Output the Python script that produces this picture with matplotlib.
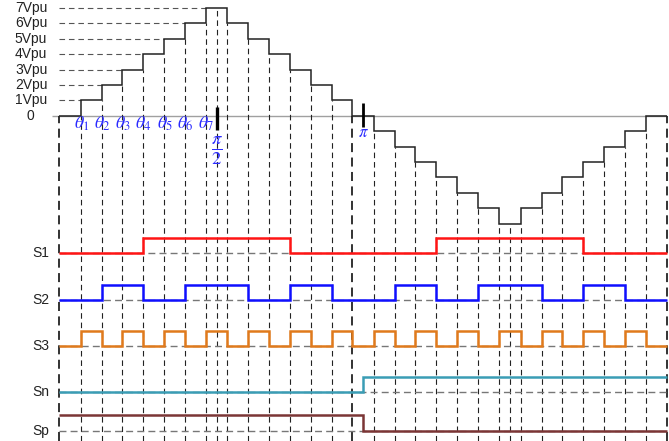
import matplotlib
matplotlib.use("Agg")
import matplotlib.pyplot as plt

# ---------------- data ----------------
theta_deg = [6.7, 19.4, 32.0, 44.9, 57.8, 70.5, 83.4]   # switching angles θ1..θ7 (deg)
theta_labels = [r"$\theta_1$", r"$\theta_2$", r"$\theta_3$", r"$\theta_4$",
                r"$\theta_5$", r"$\theta_6$", r"$\theta_7$"]
level_labels = ["0", "1Vpu", "2Vpu", "3Vpu", "4Vpu", "5Vpu", "6Vpu", "7Vpu"]

# level of the staircase in each interval between successive edges
levels = [0, 1, 2, 3, 4, 5, 6, 7, 6, 5, 4, 3, 2, 1, 0,
          -1, -2, -3, -4, -5, -6, -7, -6, -5, -4, -3, -2, -1, 0]
# switch states in the same intervals
S1 = [0, 0, 0, 0, 1, 1, 1, 1, 1, 1, 1, 0, 0, 0, 0,
      0, 0, 0, 1, 1, 1, 1, 1, 1, 1, 0, 0, 0, 0]
S2 = [0, 0, 1, 1, 0, 0, 1, 1, 1, 0, 0, 1, 1, 0, 0,
      0, 1, 1, 0, 0, 1, 1, 1, 0, 0, 1, 1, 0, 0]
S3 = [0, 1, 0, 1, 0, 1, 0, 1, 0, 1, 0, 1, 0, 1, 0,
      1, 0, 1, 0, 1, 0, 1, 0, 1, 0, 1, 0, 1, 0]
# polarity switches: change state at pi
Sn = [0, 1]
Sp = [1, 0]

signal_names = ["S1", "S2", "S3", "Sn", "Sp"]
signal_colors = ["#ff1414", "#0f0fff", "#e07a1c", "#3a9db5", "#7b3535"]

# ---------------- layout ----------------
baselines = [-8.94, -11.97, -14.95, -17.96, -20.45]
amp = 1.0

plt.rcParams["mathtext.fontset"] = "stix"
fig = plt.figure(figsize=(6.69, 4.41), dpi=100)
ax = fig.add_axes([0, 0, 1, 1])
ax.set_xlim(-43.03, 367.64)
ax.set_ylim(-21.12, 7.513)
ax.axis("off")

t1 = theta_deg[0]
x_start, x_end = -t1, 360 + t1
edges = ([x_start] + theta_deg + [180 - t for t in theta_deg[::-1]]
         + [180 + t for t in theta_deg] + [360 - t for t in theta_deg[::-1]] + [x_end])
ybot = -21.12

short = (0, (5, 3.5))
longd = (0, (5, 3))
txt = dict(family="Liberation Sans", color="#222222", fontsize=10)

# zero axis
ax.hlines(0, -11.3, 366.2, color="#a0a0a0", lw=1.0, zorder=1)

# horizontal dashed guides from the left to each level
for k, t in enumerate(theta_deg, start=1):
    ax.hlines(k, x_start, t, colors="#555555", lw=0.8, linestyles=short, zorder=1)

# vertical dashed lines at each transition
long_x = [x_start, 180 - t1, x_end]
for i in range(1, len(edges) - 1):
    x = edges[i]
    ymin = min(levels[i - 1], levels[i])
    if any(abs(x - lx) < 1e-6 for lx in long_x):
        continue
    ax.vlines(x, ybot, ymin, colors="#222222", lw=0.8, linestyles=short, zorder=1)
for lx in long_x:
    ax.vlines(lx, ybot, 0, colors="#222222", lw=1.3, linestyles=longd, zorder=1)
# quarter-period centre lines
ax.vlines(90, ybot, 7, colors="#222222", lw=0.8, linestyles=short, zorder=1)
ax.vlines(270, ybot, -7, colors="#222222", lw=0.8, linestyles=short, zorder=1)

# staircase waveform
ax.stairs(levels, edges, baseline=None, color="#222222", lw=1.1, zorder=3)

# markers at pi/2 and pi
ax.vlines(90, -0.93, 0.56, colors="black", lw=2.4, zorder=4)
ax.vlines(180, -0.73, 0.82, colors="black", lw=2.0, zorder=4)

# switching signals
pol_edges = [x_start, 180, x_end]
states = [S1, S2, S3, Sn, Sp]
for name, st, col, b in zip(signal_names, states, signal_colors, baselines):
    ax.hlines(b, x_start, x_end, colors="#777777", lw=1.0, linestyles=longd, zorder=1)
    e = edges if len(st) == len(levels) else pol_edges
    ax.stairs([b + amp * s for s in st], e, baseline=None, color=col, lw=1.8, zorder=3)
    ax.text(-12.8, b, name, ha="right", va="center", **txt)

# level labels
for k, lab in enumerate(level_labels):
    if k == 0:
        ax.text(-24.6, 0, lab, ha="center", va="center", **txt)
    else:
        ax.text(-14.0, k, lab, ha="right", va="center", **txt)

# angle labels
blue = "#2b2bff"
for t, lab in zip(theta_deg, theta_labels):
    ax.text(t + 0.3, 0.05, lab, ha="center", va="top", fontsize=13, color=blue, zorder=5)
ax.text(90, -2.3, r"$\frac{\pi}{2}$", ha="center", va="center", fontsize=19,
        color=blue, zorder=5)
ax.text(180, -1.05, r"$\pi$", ha="center", va="center", fontsize=12, color=blue, zorder=5)

fig.savefig("out.png", dpi=100)
